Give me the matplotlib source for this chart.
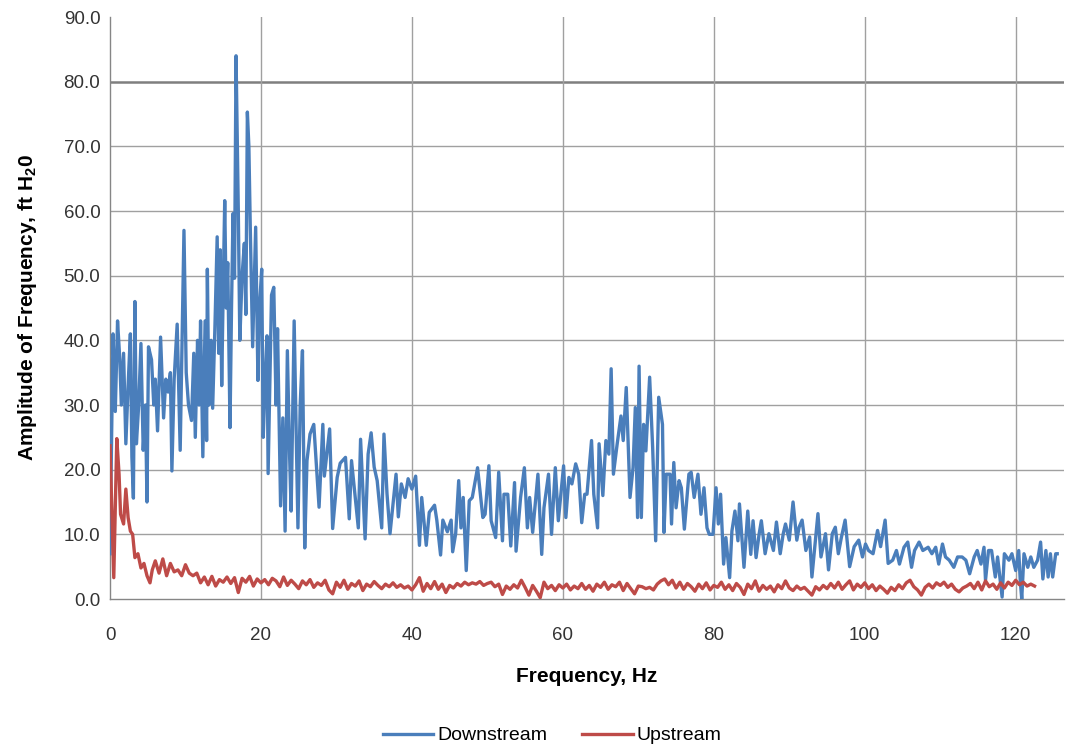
from matplotlib import pyplot as plt
import numpy as np

plt.rcParams['font.family'] = ['Liberation Sans', 'DejaVu Sans']
plt.rcParams['mathtext.fontset'] = 'custom'
plt.rcParams['mathtext.rm'] = 'Liberation Sans'
plt.rcParams['mathtext.bf'] = 'Liberation Sans:bold'

BLUE = '#4a7ebb'
RED = '#be4b48'
GRID = '#a0a0a0'

# downstream spectrum, (Hz, ft H2O)
down_freq = [
    0.0, 0.4, 0.7, 1.0, 1.3, 1.5, 1.8, 2.1, 2.4, 2.7, 2.9, 3.1, 3.3, 3.5, 3.8, 4.1, 4.4, 4.7, 4.9, 5.1,
    5.5, 5.8, 6.0, 6.3, 6.7, 7.1, 7.4, 7.7, 8.0, 8.2, 8.5, 8.9, 9.3, 9.8, 10.1, 10.4, 10.8, 11.1, 11.3, 11.6,
    11.8, 12.0, 12.3, 12.6, 12.8, 12.9, 13.1, 13.4, 13.6, 13.9, 14.2, 14.4, 14.6, 14.8, 15.0, 15.2, 15.4, 15.6, 15.9, 16.1,
    16.3, 16.5, 16.7, 17.0, 17.2, 17.5, 17.8, 18.0, 18.2, 18.4, 18.6, 18.9, 19.1, 19.3, 19.6, 19.8, 20.1, 20.3, 20.6, 20.8,
    20.95, 21.2, 21.4, 21.7, 22.0, 22.2, 22.6, 22.9, 23.2, 23.5, 23.8, 24.0, 24.4, 24.6, 24.9, 25.2, 25.5, 25.8, 26.1, 26.5,
    27.0, 27.7, 28.2, 28.4, 29.1, 29.5, 30.1, 30.5, 31.2, 31.7, 32.0, 32.5, 32.9, 33.2, 33.8, 34.2, 34.6, 35.0, 35.4, 36.0,
    36.3, 36.7, 37.1, 37.9, 38.2, 38.6, 39.1, 39.5, 40.0, 40.5, 41.0, 41.3, 41.9, 42.3, 43.0, 43.3, 43.8, 44.1, 44.7, 45.2,
    45.4, 45.8, 46.2, 46.5, 46.8, 47.2, 47.6, 48.0, 48.7, 49.4, 49.7, 50.2, 50.5, 51.1, 51.5, 52.0, 52.2, 52.7, 53.1, 53.6,
    53.8, 54.4, 54.9, 55.3, 55.6, 56.0, 56.7, 57.2, 57.5, 58.1, 58.5, 59.0, 59.4, 60.1, 60.4, 60.8, 61.2, 61.7, 62.1, 62.5,
    62.9, 63.2, 63.8, 64.1, 64.6, 64.8, 65.3, 65.7, 66.1, 66.4, 66.7, 67.2, 67.7, 68.0, 68.4, 68.9, 69.3, 69.6, 69.9, 70.1,
    70.4, 70.7, 71.0, 71.5, 71.9, 72.3, 72.7, 73.2, 73.4, 73.7, 74.2, 74.4, 74.7, 75.0, 75.4, 75.7, 76.1, 76.7, 77.0, 77.4,
    77.9, 78.3, 78.7, 79.1, 79.4, 79.9, 80.3, 80.6, 80.9, 81.3, 81.6, 82.1, 82.4, 82.8, 83.2, 83.4, 84.0, 84.5, 84.9, 85.2,
    85.6, 86.0, 86.3, 86.8, 87.3, 87.9, 88.3, 88.8, 89.2, 89.5, 90.0, 90.5, 91.0, 91.3, 91.7, 92.2, 92.7, 93.0, 93.8, 94.2,
    94.8, 95.2, 95.7, 96.1, 96.5, 96.9, 97.4, 98.0, 98.6, 99.2, 99.7, 100.1, 100.5, 101.1, 101.7, 102.1, 102.7, 103.1, 103.7, 104.2,
    104.6, 105.2, 105.7, 106.2, 106.6, 107.2, 107.7, 108.4, 108.9, 109.4, 109.8, 110.3, 110.7, 111.2, 111.8, 112.3, 112.9, 113.4, 113.9, 114.5,
    114.9, 115.4, 115.8, 116.0, 116.4, 116.8, 117.3, 117.6, 118.2, 118.5, 119.1, 119.5, 120.0, 120.4, 120.6, 120.8, 121.1, 121.6, 122.0, 122.4,
    122.9, 123.3, 123.6, 124.0, 124.3, 124.6, 124.9, 125.3, 125.5,
]
down_amp = [
    7.0, 41.0, 29.0, 43.0, 37.0, 30.0, 38.0, 24.0, 33.0, 41.0, 22.0, 15.6, 46.0, 24.0, 30.0, 39.5, 23.0, 30.0, 15.0, 39.0,
    37.0, 30.0, 34.0, 26.0, 40.5, 28.0, 34.0, 32.0, 35.0, 19.8, 34.0, 42.5, 23.0, 57.0, 35.0, 30.0, 27.6, 38.0, 25.0, 40.0,
    30.0, 43.0, 22.0, 43.0, 24.5, 51.0, 30.0, 40.0, 29.5, 42.0, 56.0, 38.0, 54.0, 33.0, 48.0, 61.6, 45.0, 52.0, 26.5, 45.0,
    59.6, 49.6, 84.0, 60.0, 40.0, 50.0, 55.0, 44.0, 75.3, 70.0, 56.5, 39.0, 48.0, 57.5, 33.8, 45.0, 51.0, 25.0, 35.0, 40.7,
    19.4, 35.0, 47.0, 48.2, 30.0, 41.8, 14.4, 28.0, 10.5, 38.4, 22.0, 13.6, 43.0, 30.0, 11.0, 30.0, 38.4, 7.9, 21.4, 25.5,
    27.0, 14.2, 27.0, 19.0, 26.3, 10.9, 18.8, 21.0, 21.9, 12.4, 21.4, 15.7, 11.0, 24.7, 9.3, 22.4, 25.7, 20.4, 18.3, 11.0,
    25.5, 16.3, 10.1, 19.3, 12.7, 17.8, 15.7, 18.6, 17.0, 19.0, 8.3, 15.7, 8.3, 13.4, 14.5, 12.2, 6.8, 12.2, 10.4, 12.2,
    7.3, 10.1, 18.3, 11.0, 15.7, 4.4, 15.2, 15.7, 20.3, 12.6, 13.1, 20.6, 12.1, 9.5, 19.6, 9.0, 16.2, 16.2, 8.2, 18.0,
    7.4, 15.7, 20.3, 11.0, 15.7, 10.3, 19.3, 6.9, 14.1, 19.3, 10.0, 20.3, 12.1, 20.6, 12.6, 18.8, 17.8, 20.9, 19.3, 11.8,
    16.2, 16.2, 24.5, 16.2, 11.0, 24.0, 16.0, 24.5, 22.4, 35.6, 19.3, 24.0, 28.3, 24.5, 32.7, 15.7, 20.3, 29.6, 12.6, 36.0,
    12.6, 27.0, 22.9, 34.3, 23.4, 9.0, 31.2, 27.0, 10.3, 19.3, 19.3, 11.6, 21.1, 14.1, 18.3, 17.2, 10.8, 19.3, 19.6, 15.7,
    19.3, 13.1, 17.2, 11.0, 10.0, 10.0, 17.2, 11.6, 16.2, 5.4, 9.5, 3.3, 10.5, 13.6, 9.0, 14.7, 4.9, 13.6, 6.9, 12.1,
    6.4, 10.0, 12.1, 7.0, 10.1, 7.5, 11.9, 7.0, 10.1, 11.6, 9.1, 15.0, 9.1, 11.1, 12.2, 7.5, 9.6, 3.4, 13.2, 6.5,
    10.1, 4.5, 10.1, 11.1, 7.0, 9.5, 12.2, 5.0, 8.1, 9.1, 6.5, 8.5, 7.5, 7.0, 10.6, 8.1, 12.2, 5.5, 6.0, 7.5,
    5.4, 8.0, 8.8, 4.9, 7.5, 8.8, 7.5, 8.0, 7.0, 8.0, 5.4, 8.5, 6.5, 6.0, 4.9, 6.5, 6.5, 6.0, 3.9, 6.5,
    7.5, 5.4, 8.0, 2.9, 7.5, 7.5, 3.4, 6.5, 0.3, 7.0, 6.0, 7.0, 4.4, 7.5, 2.9, 0.0, 7.0, 4.9, 6.5, 4.9,
    6.0, 8.8, 3.1, 7.5, 3.4, 7.0, 3.4, 7.0, 7.0,
]

# upstream: first few Hz read point by point, then every 0.5 Hz from 6 Hz
up_head_freq = [0.0, 0.5, 0.9, 1.2, 1.4, 1.8, 2.1, 2.4, 2.7, 3.0, 3.3, 3.7, 4.1, 4.5, 4.9, 5.3, 5.6]
up_head_amp = [23.7, 3.3, 24.8, 19.3, 13.1, 11.6, 17.0, 12.6, 10.5, 10.0, 6.4, 7.0, 4.8, 5.5, 3.6, 2.5, 4.5]
up_tail_start = 6.0
up_tail_step = 0.5
up_tail_amp = [
    5.9, 4.0, 6.2, 3.6, 5.5, 4.2, 4.5, 3.6, 5.3, 4.0, 3.6, 4.0, 2.5,
    3.4, 2.2, 3.5, 2.0, 3.0, 2.6, 3.4, 2.4, 3.3, 1.0, 3.2, 2.6, 3.5, 2.0, 3.1, 2.5,
    3.0, 2.2, 3.2, 2.8, 1.9, 3.4, 2.1, 2.9, 2.3, 1.6, 2.8, 2.2, 3.0, 1.8, 2.5, 2.1, 2.9, 1.4, 0.8, 2.6,
    1.8, 2.9, 1.5, 2.4, 2.0, 2.8, 1.3, 2.3, 1.9, 2.7, 2.1, 1.6, 2.3, 1.9, 2.5, 1.8, 2.2, 1.7, 2.0, 1.4,
    2.2, 3.3, 1.2, 2.4, 1.6, 2.7, 1.5, 2.3, 1.0, 2.1, 1.7, 2.4, 2.0, 2.6, 2.2, 2.5, 2.3, 2.7, 2.1, 2.4,
    2.6, 1.9, 2.3, 0.7, 2.0, 1.5, 2.2, 1.7, 2.9, 1.8, 0.6, 2.1, 1.2, 0.2, 2.6, 1.6, 2.1, 1.3, 2.2, 1.7,
    2.3, 1.4, 2.0, 1.6, 2.4, 1.5, 2.1, 1.2, 2.3, 1.8, 2.6, 1.5, 2.2, 1.9, 2.6, 1.3, 2.4, 1.6, 0.8, 2.0,
    1.9, 1.6, 1.8, 1.4, 2.3, 2.8, 3.1, 2.2, 2.9, 1.7, 2.6, 1.5, 2.4, 1.9, 1.2, 2.3, 1.6, 2.5, 1.4, 2.1,
    1.8, 2.6, 1.5, 2.2, 1.3, 2.4, 1.8, 0.7, 2.3, 1.6, 2.8, 1.2, 2.1, 1.5, 2.0, 1.1, 2.2, 1.6, 2.8, 1.7,
    1.3, 2.0, 1.5, 1.8, 1.2, 0.6, 1.9, 1.4, 2.1, 1.6, 2.4, 1.7, 2.6, 1.5, 2.2, 2.8, 1.4, 2.3, 1.8, 2.5,
    1.6, 2.2, 1.3, 2.0, 1.5, 0.9, 1.8, 1.3, 2.2, 1.6, 2.5, 2.9, 1.9, 1.4, 0.6, 1.8, 2.3, 1.7, 2.5, 2.1,
    2.6, 1.8, 2.3, 1.5, 1.1, 1.7, 2.0, 2.4, 1.6, 2.6, 1.4, 2.8, 1.9, 2.3, 1.5, 2.5, 1.7, 2.6, 2.1, 2.9,
    2.2, 2.6, 2.0, 2.3, 2.0,
]

up_tail_freq = up_tail_start + up_tail_step * np.arange(len(up_tail_amp))
up_freq = np.concatenate([up_head_freq, up_tail_freq])
up_amp = np.concatenate([up_head_amp, up_tail_amp])

fig = plt.figure(figsize=(10.68, 7.44), dpi=100)
ax = fig.add_axes([110/1068, 1 - 599/744, 954/1068, 582/744])

ax.plot(down_freq, down_amp, color=BLUE, lw=2.4, label='Downstream', zorder=3)
ax.plot(up_freq, up_amp, color=RED, lw=2.4, label='Upstream', zorder=4)

ax.set_xlim(0, 126.4)
ax.set_ylim(0, 90)
ax.set_xticks(np.arange(0, 121, 20))
ax.set_yticks(np.arange(0, 91, 10))
ax.set_yticklabels(['%.1f' % v for v in np.arange(0, 91, 10)])

for v in range(10, 90, 10):
    if v == 80:
        ax.axhline(v, color='#7f7f7f', lw=1.8, zorder=1)
    else:
        ax.axhline(v, color=GRID, lw=1.0, zorder=1)
for f in range(20, 121, 20):
    ax.axvline(f, color=GRID, lw=1.0, zorder=1)

for side in ['top', 'right']:
    ax.spines[side].set_visible(False)
for side in ['left', 'bottom']:
    ax.spines[side].set_color('#868686')
    ax.spines[side].set_linewidth(1.0)

ax.tick_params(axis='both', length=0, labelsize=13.5, labelcolor='#333333')
ax.tick_params(axis='x', pad=20)
ax.tick_params(axis='y', pad=7)

ax.set_xlabel('Frequency, Hz', fontsize=15, fontweight='bold', labelpad=17)
ax.set_ylabel(r'Amplitude of Frequency, ft H$_\mathbf{2}$0', fontsize=15, fontweight='bold', labelpad=18)

fig.legend(loc='lower center', bbox_to_anchor=(0.517, -0.024), ncol=2, frameon=False,
           fontsize=14, handlelength=2.6, handletextpad=0.2, columnspacing=1.8)

fig.savefig('out.png', dpi=100)
